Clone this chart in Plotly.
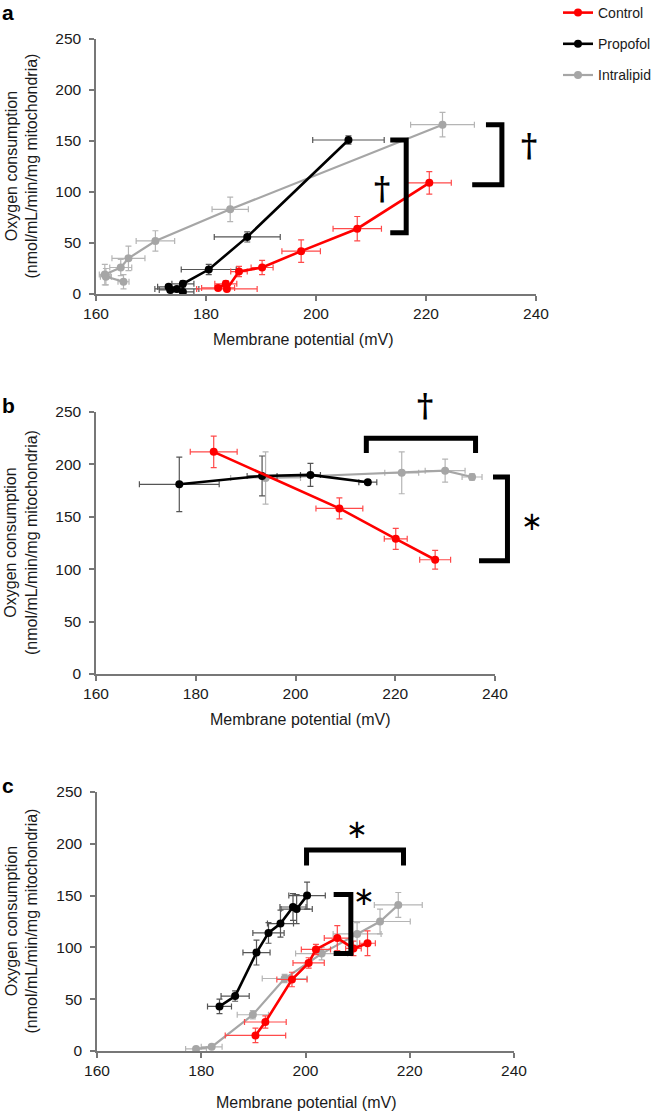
import plotly.graph_objects as go

W, H = 655, 1111
FONT = "Liberation Sans, Arial, sans-serif"

# ---------------- data ----------------
series_names = ["Control", "Propofol", "Intralipid"]
x_ticks = [160, 180, 200, 220, 240]
y_ticks = [0, 50, 100, 150, 200, 250]

# Panel a
a_ctrl_x = [182.2, 183.6, 183.8, 186.0, 190.2, 197.3, 207.5, 220.6]
a_ctrl_y = [6, 10, 5, 22, 26, 42, 64, 109]
a_ctrl_xerr = [3, 2, 5.5, 1.5, 2, 3.5, 4.4, 4]
a_ctrl_yerr = [2, 3, 2, 5, 7, 11, 12, 11]

a_prop_x = [173.5, 173.2, 174.7, 175.8, 175.8, 180.5, 187.5, 205.9]
a_prop_y = [4, 7, 5, 2, 10, 24, 56, 151]
a_prop_xerr = [2, 2, 4, 2, 2, 5, 6, 6.5]
a_prop_yerr = [2, 2, 2, 2, 3, 5, 5, 4]

a_intra_x = [165.0, 161.8, 161.6, 164.5, 165.9, 170.8, 184.4, 223.0]
a_intra_y = [12, 17, 19, 26, 35, 52, 83, 166]
a_intra_xerr = [1, 1, 1, 2, 3, 3.5, 3.3, 5.8]
a_intra_yerr = [7, 8, 10, 8, 12, 10, 12, 12]

# Panel b
b_ctrl_x = [183.6, 208.8, 220.1, 228.0]
b_ctrl_y = [212, 158, 129, 109]
b_ctrl_xerr = [4.7, 4.7, 2.3, 3.1]
b_ctrl_yerr = [15, 10, 10, 9]

b_prop_x = [176.7, 193.3, 203.0, 214.5]
b_prop_y = [181, 189, 190, 183]
b_prop_xerr = [8, 3, 2, 1.8]
b_prop_yerr = [26, 19, 11, 2]

b_intra_x = [194.0, 221.3, 230.0, 235.4]
b_intra_y = [187, 192, 194, 188]
b_intra_xerr = [7, 3.4, 4, 2]
b_intra_yerr = [25, 20, 11, 3]

# Panel c
c_ctrl_x = [190.4, 192.3, 197.4, 200.6, 202.0, 206.1, 209.2, 211.9]
c_ctrl_y = [15, 28, 69, 85, 98, 109, 99, 104]
c_ctrl_xerr = [5.8, 4, 2.9, 3, 2.8, 2.5, 1.5, 1.5]
c_ctrl_yerr = [7, 6, 7, 5, 5, 12, 7, 12]

c_prop_x = [183.5, 186.5, 190.6, 192.9, 195.2, 197.6, 198.3, 200.3]
c_prop_y = [43, 53, 95, 114, 123, 139, 137, 150]
c_prop_xerr = [2.3, 2.7, 2.6, 3, 2.5, 2.5, 3, 3.5]
c_prop_yerr = [7, 5, 12, 10, 13, 13, 14, 13]

c_intra_x = [179.0, 182.0, 189.9, 196.0, 203.1, 209.9, 214.3, 217.8]
c_intra_y = [2, 4, 35, 70, 94, 113, 125, 141]
c_intra_xerr = [2, 2, 3, 4.3, 5, 4.6, 5.8, 4.6]
c_intra_yerr = [1, 1, 4, 4, 6, 11, 12, 12]

# ---------------- styling ----------------
line_colors = {"Control": "#ff0000", "Propofol": "#000000", "Intralipid": "#a6a6a6"}
err_colors = {"Control": "#ff4a4a", "Propofol": "#555555", "Intralipid": "#b5b5b5"}
line_widths = {"Control": 2.6, "Propofol": 2.6, "Intralipid": 2.2}

# plot-area pixel boxes (left, right, top, bottom)
boxes = {
    "a": (96, 536, 39, 294),
    "b": (96, 495, 412, 674),
    "c": (97, 514, 792, 1051),
}
XR = [160, 240]
YR = [0, 250]


def px(xp):
    return xp / W


def py(yp):
    return 1 - yp / H


def data_to_paper(panel, xv, yv):
    l, r, t, b = boxes[panel]
    xp = l + (xv - XR[0]) / (XR[1] - XR[0]) * (r - l)
    yp = b - (yv - YR[0]) / (YR[1] - YR[0]) * (b - t)
    return px(xp), py(yp)


fig = go.Figure()

panels = {
    "a": ("x", "y", [(a_ctrl_x, a_ctrl_y, a_ctrl_xerr, a_ctrl_yerr),
                     (a_prop_x, a_prop_y, a_prop_xerr, a_prop_yerr),
                     (a_intra_x, a_intra_y, a_intra_xerr, a_intra_yerr)]),
    "b": ("x2", "y2", [(b_ctrl_x, b_ctrl_y, b_ctrl_xerr, b_ctrl_yerr),
                       (b_prop_x, b_prop_y, b_prop_xerr, b_prop_yerr),
                       (b_intra_x, b_intra_y, b_intra_xerr, b_intra_yerr)]),
    "c": ("x3", "y3", [(c_ctrl_x, c_ctrl_y, c_ctrl_xerr, c_ctrl_yerr),
                       (c_prop_x, c_prop_y, c_prop_xerr, c_prop_yerr),
                       (c_intra_x, c_intra_y, c_intra_xerr, c_intra_yerr)]),
}

# draw order: intralipid underneath, then propofol, then control
order = [2, 1, 0]
for panel, (xa, ya, sets) in panels.items():
    for i in order:
        name = series_names[i]
        xs, ys, xe, ye = sets[i]
        fig.add_trace(go.Scatter(
            x=xs, y=ys, xaxis=xa, yaxis=ya, mode="lines+markers", name=name,
            legendgroup=name, legendrank=i + 1, showlegend=(panel == "a"),
            line=dict(color=line_colors[name], width=line_widths[name]),
            marker=dict(color=line_colors[name], size=8),
            error_x=dict(type="data", array=xe, color=err_colors[name], thickness=1.2, width=3),
            error_y=dict(type="data", array=ye, color=err_colors[name], thickness=1.2, width=3),
            cliponaxis=False,
        ))

axis_common = dict(
    showgrid=False, zeroline=False, showline=True, linecolor="#777777", linewidth=1.5,
    ticks="outside", ticklen=5, tickwidth=1.5, tickcolor="#777777", automargin=False,
    tickfont=dict(family=FONT, size=15.5, color="#1a1a1a"), fixedrange=True,
)
layout_axes = {}
for k, (panel, suffix) in enumerate([("a", ""), ("b", "2"), ("c", "3")]):
    l, r, t, b = boxes[panel]
    layout_axes["xaxis" + suffix] = dict(axis_common, domain=[px(l), px(r)], range=XR,
                                         tickvals=x_ticks, anchor="y" + suffix)
    layout_axes["yaxis" + suffix] = dict(axis_common, domain=[py(b), py(t)], range=YR,
                                         tickvals=y_ticks, anchor="x" + suffix,
                                         ticklabelstandoff=5)

fig.update_layout(**layout_axes)

# ---------------- brackets & significance marks ----------------
brackets = {
    "a": [[(213.5, 151), (216.4, 151), (216.4, 60), (213.5, 60)],
          [(230.9, 166), (233.8, 166), (233.8, 107), (228.4, 107)]],
    "b": [[(214.2, 211), (214.2, 225), (236.1, 225), (236.1, 211)],
          [(239.6, 188), (242.5, 188), (242.5, 108), (236.8, 108)]],
    "c": [[(200.2, 179), (200.2, 194), (218.8, 194), (218.8, 179)],
          [(205.4, 151), (208.7, 151), (208.7, 94), (205.4, 94)]],
}
marks = {
    "a": [("†", 212.0, 104), ("†", 238.7, 146)],
    "b": [("†", 225.9, 257), ("*", 247.4, 146)],
    "c": [("*", 209.9, 214), ("*", 211.3, 150)],
}

shapes = []
for panel, blist in brackets.items():
    for pts in blist:
        pp = [data_to_paper(panel, xv, yv) for xv, yv in pts]
        path = "M " + " L ".join(f"{a:.5f},{b:.5f}" for a, b in pp)
        shapes.append(dict(type="path", path=path, xref="paper", yref="paper",
                           line=dict(color="black", width=5), layer="above"))

annotations = []
for panel, mlist in marks.items():
    for sym, xv, yv in mlist:
        xp, yp = data_to_paper(panel, xv, yv)
        if sym == "†":
            annotations.append(dict(text="<b>†</b>", x=xp, y=yp, xref="paper", yref="paper",
                                    showarrow=False, font=dict(family="DejaVu Serif", size=31, color="#000000"),
                                    xanchor="center", yanchor="middle"))
        else:
            annotations.append(dict(text="∗", x=xp, y=yp, xref="paper", yref="paper",
                                    showarrow=False, font=dict(family="DejaVu Sans", size=26, color="#000000"),
                                    xanchor="center", yanchor="middle"))

# panel letters
for letter, (xl, yl) in {"a": (8, 12), "b": (8, 405), "c": (8, 785)}.items():
    annotations.append(dict(text=f"<b>{letter}</b>", x=px(xl), y=py(yl), xref="paper", yref="paper",
                            showarrow=False, font=dict(family=FONT, size=21, color="black"),
                            xanchor="center", yanchor="middle"))

# axis titles
xt_pos = {"a": (303, 339), "b": (300, 719), "c": (306, 1102)}
for panel, (xx, yy) in xt_pos.items():
    annotations.append(dict(text="Membrane potential (mV)", x=px(xx), y=py(yy), xref="paper", yref="paper",
                            showarrow=False, font=dict(family=FONT, size=16, color="#1a1a1a"),
                            xanchor="center", yanchor="middle"))
for panel in ["a", "b", "c"]:
    l, r, t, b = boxes[panel]
    annotations.append(dict(text="Oxygen consumption<br>(nmol/mL/min/mg mitochondria)",
                            x=px(21), y=py((t + b) / 2), xref="paper", yref="paper",
                            showarrow=False, textangle=-90,
                            font=dict(family=FONT, size=16, color="#1a1a1a"),
                            xanchor="center", yanchor="middle"))

fig.update_layout(
    template="none",
    width=W, height=H, margin=dict(l=0, r=0, t=0, b=0, autoexpand=False),
    paper_bgcolor="white", plot_bgcolor="white",
    shapes=shapes, annotations=annotations,
    legend=dict(x=558 / W, y=1 + 3 / H, xanchor="left", yanchor="top", tracegroupgap=10,
                font=dict(family=FONT, size=14, color="#1a1a1a"), bgcolor="rgba(0,0,0,0)",
                itemwidth=30),
    font=dict(family=FONT),
)

fig.write_html(
    "out.html",
    config={"displayModeBar": False},
    post_script="document.body.style.margin='0px';document.body.style.overflow='hidden';",
)
